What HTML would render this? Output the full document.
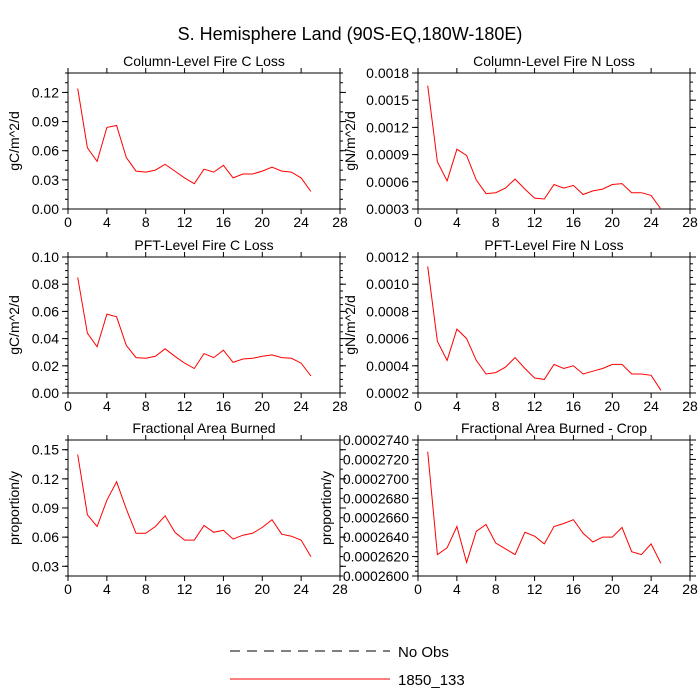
<!DOCTYPE html>
<html><head><meta charset="utf-8"><style>
body{margin:0;background:#fff;}
svg{display:block;font-family:"Liberation Sans",Arial,sans-serif;}
</style></head><body>
<svg id="chart" width="700" height="700" viewBox="0 0 700 700" xmlns="http://www.w3.org/2000/svg">
<rect width="700" height="700" fill="#fff"/>
<text x="350" y="40" font-size="18" text-anchor="middle">S. Hemisphere Land (90S-EQ,180W-180E)</text>
<g>
<line x1="230" y1="651" x2="390" y2="651" stroke="#000" stroke-dasharray="10,7" stroke-width="1"/>
<text x="398" y="657" font-size="15">No Obs</text>
<line x1="230" y1="679" x2="390" y2="679" stroke="#f00" stroke-width="1"/>
<text x="398" y="685" font-size="15">1850_133</text>
</g>
</svg>
<script>
const years = [1,2,3,4,5,6,7,8,9,10,11,12,13,14,15,16,17,18,19,20,21,22,23,24,25];
const xTicks = [0,4,8,12,16,20,24,28];
const colCLoss = [0.124,0.063,0.049,0.084,0.086,0.053,0.039,0.038,0.040,0.046,0.039,0.032,0.026,0.041,0.038,0.045,0.032,0.036,0.036,0.039,0.043,0.039,0.038,0.032,0.018];
const colNLoss = [0.00166,0.00082,0.00061,0.00096,0.00089,0.00062,0.00047,0.00048,0.00053,0.00063,0.00052,0.00042,0.00041,0.00057,0.00053,0.00056,0.00046,0.00050,0.00052,0.00057,0.00058,0.00048,0.00048,0.00045,0.00030];
const pftCLoss = [0.085,0.044,0.034,0.058,0.056,0.035,0.026,0.0255,0.027,0.0325,0.027,0.022,0.018,0.029,0.026,0.0315,0.0225,0.025,0.0255,0.027,0.028,0.026,0.0255,0.022,0.0125];
const pftNLoss = [0.00113,0.00058,0.00044,0.00067,0.00060,0.00044,0.00034,0.00035,0.00039,0.00046,0.00038,0.00031,0.00030,0.00041,0.00038,0.00040,0.00034,0.00036,0.00038,0.00041,0.00041,0.00034,0.00034,0.00033,0.00022];
const areaBurned = [0.145,0.083,0.071,0.098,0.117,0.089,0.064,0.064,0.071,0.082,0.065,0.057,0.057,0.072,0.065,0.067,0.058,0.062,0.064,0.070,0.078,0.063,0.061,0.057,0.040];
const areaBurnedCrop = [0.0002728,0.0002622,0.0002629,0.0002651,0.0002614,0.0002646,0.0002653,0.0002634,0.0002628,0.0002622,0.0002645,0.0002641,0.0002633,0.0002651,0.0002654,0.0002658,0.0002644,0.0002635,0.000264,0.000264,0.000265,0.0002625,0.0002622,0.0002633,0.0002613];
const tlColC = ["0.00","0.03","0.06","0.09","0.12"];
const tvColC = [0,0.03,0.06,0.09,0.12];
const tlColN = ["0.0003","0.0006","0.0009","0.0012","0.0015","0.0018"];
const tvColN = [0.0003,0.0006,0.0009,0.0012,0.0015,0.0018];
const tlPftC = ["0.00","0.02","0.04","0.06","0.08","0.10"];
const tvPftC = [0,0.02,0.04,0.06,0.08,0.10];
const tlPftN = ["0.0002","0.0004","0.0006","0.0008","0.0010","0.0012"];
const tvPftN = [0.0002,0.0004,0.0006,0.0008,0.0010,0.0012];
const tlArea = ["0.03","0.06","0.09","0.12","0.15"];
const tvArea = [0.03,0.06,0.09,0.12,0.15];
const tlCrop = ["0.0002600","0.0002620","0.0002640","0.0002660","0.0002680","0.0002700","0.0002720","0.0002740"];
const tvCrop = [0.00026,0.000262,0.000264,0.000266,0.000268,0.00027,0.000272,0.000274];

const NS="http://www.w3.org/2000/svg";
const svg=document.getElementById('chart');
function mk(tag,attrs,parent){const e=document.createElementNS(NS,tag);for(const k in attrs)e.setAttribute(k,attrs[k]);(parent||svg).appendChild(e);return e;}

const panels=[
 {name:'column-fire-c-loss',title:'Column-Level Fire C Loss',ytitle:'gC/m^2/d',x0:68,top:73,ymin:0,ymax:0.14,data:colCLoss,tv:tvColC,tl:tlColC,minor:0.01,ytx:14},
 {name:'column-fire-n-loss',title:'Column-Level Fire N Loss',ytitle:'gN/m^2/d',x0:418,top:73,ymin:0.0003,ymax:0.0018,data:colNLoss,tv:tvColN,tl:tlColN,minor:0.0001,ytx:350},
 {name:'pft-fire-c-loss',title:'PFT-Level Fire C Loss',ytitle:'gC/m^2/d',x0:68,top:257,ymin:0,ymax:0.10,data:pftCLoss,tv:tvPftC,tl:tlPftC,minor:0.005,ytx:14},
 {name:'pft-fire-n-loss',title:'PFT-Level Fire N Loss',ytitle:'gN/m^2/d',x0:418,top:257,ymin:0.0002,ymax:0.0012,data:pftNLoss,tv:tvPftN,tl:tlPftN,minor:0.00005,ytx:350},
 {name:'fractional-area-burned',title:'Fractional Area Burned',ytitle:'proportion/y',x0:68,top:440,ymin:0.02,ymax:0.16,data:areaBurned,tv:tvArea,tl:tlArea,minor:0.01,ytx:14},
 {name:'fractional-area-burned-crop',title:'Fractional Area Burned - Crop',ytitle:'proportion/y',x0:418,top:440,ymin:0.00026,ymax:0.000274,data:areaBurnedCrop,tv:tvCrop,tl:tlCrop,minor:0.0000005,ytx:326}
];
const W=272,H=136;
panels.forEach(p=>{
  const g=mk('g',{});
  
  
  const xs=v=>p.x0+v/28*W;
  const ys=v=>p.top+H-(v-p.ymin)/(p.ymax-p.ymin)*H;
  const bot=p.top+H, right=p.x0+W;
  const nMin=Math.round((p.ymax-p.ymin)/p.minor);
  for(let i=0;i<=nMin;i++){const v=p.ymin+i*p.minor;const y=ys(v);
    const t1=mk('line',{x1:p.x0-3,y1:y,x2:p.x0,y2:y,stroke:'#000','stroke-width':1},g);
    
    
    const t2=mk('line',{x1:right,y1:y,x2:right+3,y2:y,stroke:'#000','stroke-width':1},g);
    
    
  }
  p.tv.forEach((v,i)=>{const y=ys(v);
    const a=mk('line',{x1:p.x0-6,y1:y,x2:p.x0,y2:y,stroke:'#000','stroke-width':1},g);
    
    
    const b=mk('line',{x1:right,y1:y,x2:right+6,y2:y,stroke:'#000','stroke-width':1},g);
    
    
    const t=mk('text',{x:p.x0-9,y:y+5,'font-size':14,'text-anchor':'end'},g);
    
    
    t.textContent=p.tl[i];
  });
  xTicks.forEach(v=>{const x=xs(v);
    const a=mk('line',{x1:x,y1:bot,x2:x,y2:bot+5,stroke:'#000','stroke-width':1},g);
    
    
    const b=mk('line',{x1:x,y1:p.top-5,x2:x,y2:p.top,stroke:'#000','stroke-width':1},g);
    
    
    const t=mk('text',{x:x,y:bot+18,'font-size':14,'text-anchor':'middle'},g);
    
    
    t.textContent=v;
  });
  const fr=mk('rect',{x:p.x0,y:p.top,width:W,height:H,fill:'none',stroke:'#000','stroke-width':1},g);
  
  
  const tt=mk('text',{x:p.x0+W/2,y:p.top-7,'font-size':14,'text-anchor':'middle'},g);
  
  
  tt.textContent=p.title;
  const cy=p.top+H/2;
  const yt=mk('text',{x:p.ytx,y:cy,'font-size':14,'text-anchor':'middle',transform:`rotate(-90 ${p.ytx} ${cy})`,'dominant-baseline':'central'},g);
  
  
  yt.textContent=p.ytitle;
  const pts=years.map((yr,i)=>xs(yr).toFixed(1)+','+ys(p.data[i]).toFixed(1)).join(' ');
  const ln=mk('polyline',{points:pts,fill:'none',stroke:'#f00','stroke-width':1},g);
  
  
});
</script>
</body></html>
